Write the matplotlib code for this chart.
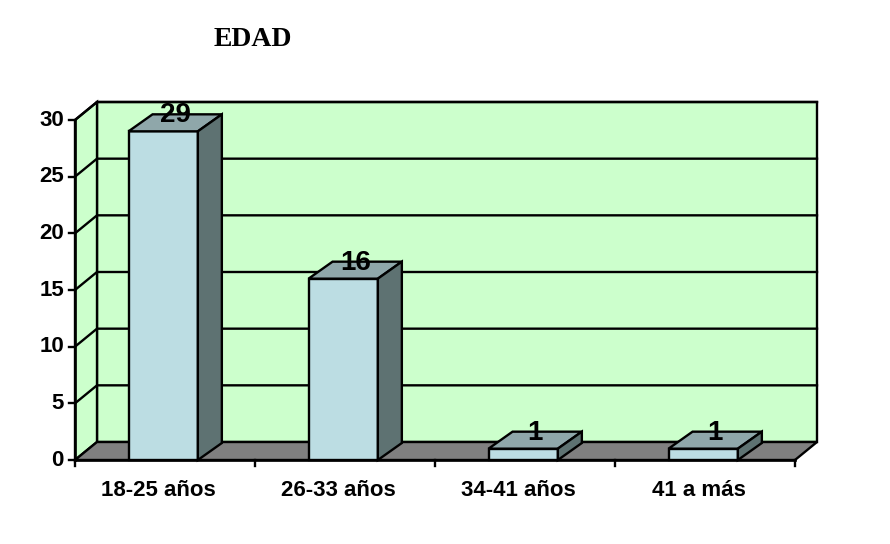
import matplotlib
matplotlib.use('Agg')
import matplotlib.pyplot as plt
from matplotlib.patches import Polygon

categorias = ['18-25 años', '26-33 años', '34-41 años', '41 a más']
valores = [29, 16, 1, 1]
yticks = [0, 5, 10, 15, 20, 25, 30]
titulo = 'EDAD'

# colores estilo Excel
c_pared = '#CCFFCC'
c_piso = '#808080'
c_frente = '#BCDDE3'
c_tope = '#8FA7AA'
c_lado = '#5E7272'

W, H = 890, 544
fig = plt.figure(figsize=(W / 100, H / 100), dpi=100)
fig.patch.set_facecolor('white')

# zona de datos (frente): x 75..795 px, y 460..120 px
ax = fig.add_axes([75 / W, (H - 460) / H, 720 / W, 340 / H])
ax.set_xlim(0, 4)
ax.set_ylim(0, 30)
ax.axis('off')

px_x = 4 / 720.0
px_y = 30 / 340.0
dx = 22 * px_x   # profundidad de la pared
dy = 18 * px_y
bdx = 24 * px_x  # profundidad de las barras
bdy = 17 * px_y
ymax = 30
n = len(categorias)
lw = 1.7

def poly(pts, fc, z=1):
    ax.add_patch(Polygon(pts, closed=True, facecolor=fc, edgecolor='black',
                         linewidth=lw, zorder=z, clip_on=False))

# pared del fondo y pared izquierda
poly([(dx, dy), (n + dx, dy), (n + dx, ymax + dy), (dx, ymax + dy)], c_pared)
poly([(0, 0), (dx, dy), (dx, ymax + dy), (0, ymax)], c_pared)
# piso
poly([(0, 0), (n, 0), (n + dx, dy), (dx, dy)], c_piso)

# lineas de cuadricula
for t in yticks[1:]:
    ax.plot([0, dx, n + dx], [t, t + dy, t + dy], color='black', lw=lw,
            zorder=2, clip_on=False)

# barras 3D
ancho = 0.385
for i, v in enumerate(valores):
    x0 = i + 0.5 - 0.01 - ancho / 2
    x1 = x0 + ancho
    poly([(x0, 0), (x1, 0), (x1, v), (x0, v)], c_frente, z=5)
    poly([(x0, v), (x1, v), (x1 + bdx, v + bdy), (x0 + bdx, v + bdy)], c_tope, z=5)
    poly([(x1, 0), (x1 + bdx, bdy), (x1 + bdx, v + bdy), (x1, v)], c_lado, z=5)
    ax.text(x0 + ancho / 2 + bdx / 2, v + bdy * 0.95, str(v), ha='center', va='center',
            fontsize=20, fontweight='bold', family='Liberation Sans', zorder=6)

# ejes
ax.plot([0, 0], [0, ymax], color='black', lw=lw + 0.2, zorder=7, clip_on=False)
ax.plot([0, n], [0, 0], color='black', lw=lw + 0.2, zorder=7, clip_on=False)
for t in yticks:
    ax.plot([-6 * px_x, 0], [t, t], color='black', lw=lw, clip_on=False, zorder=7)
    ax.text(-11 * px_x, t, str(t), ha='right', va='center', fontsize=16,
            fontweight='bold', family='Liberation Sans')
for i in range(n + 1):
    ax.plot([i, i], [0, -6 * px_y], color='black', lw=lw, clip_on=False, zorder=7)
for i, c in enumerate(categorias):
    ax.text(i + 0.5 - 0.035, -30 * px_y, c, ha='center', va='center', fontsize=16,
            fontweight='bold', family='Liberation Sans')

fig.text(253 / W, 1 - 40 / H, titulo, ha='center', va='center', fontsize=20,
         fontweight='bold', family='Liberation Serif')

fig.savefig('out.png', dpi=100)
